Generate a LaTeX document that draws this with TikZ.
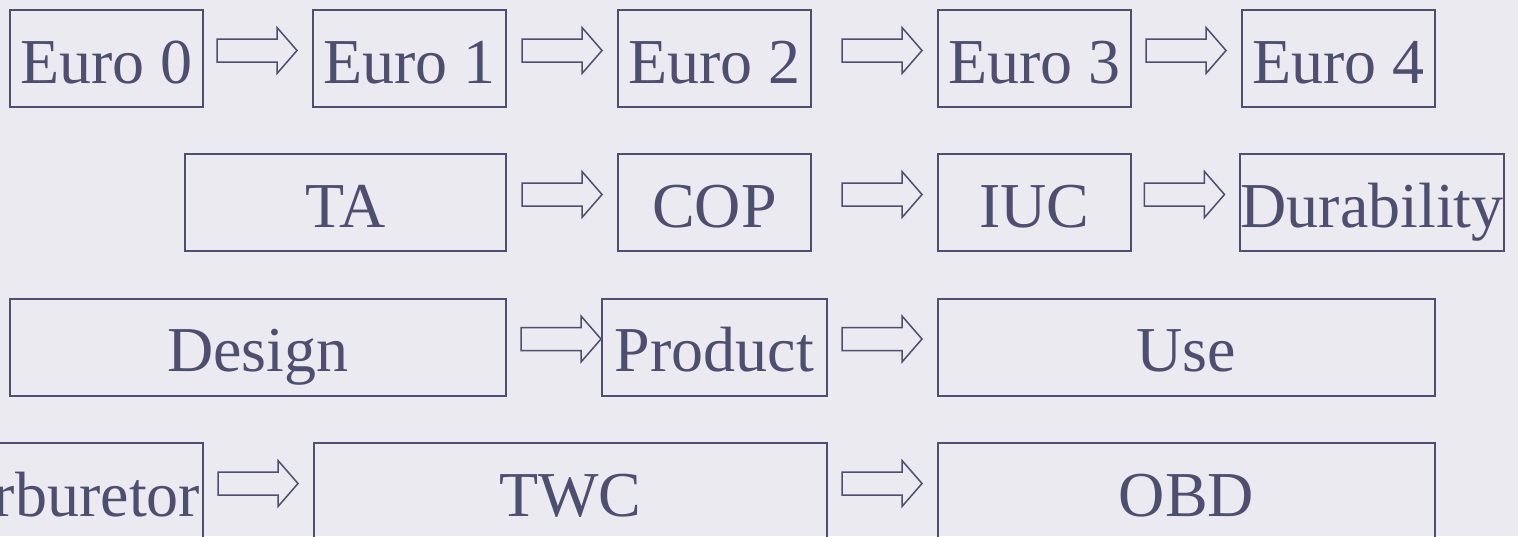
\documentclass[tikz,border=0pt]{standalone}
\usepackage{fontspec}
\setmainfont{Liberation Serif}
\usetikzlibrary{calc}
\definecolor{ink}{RGB}{78,78,112}
\definecolor{paper}{RGB}{234,234,240}
% hollow block arrow: ends gap px before the target box, level with the source
\newcommand{\fatarrow}[3][15]{%
  \draw[farrow] ($(#3.west |- #2.center)+(-#1,-8)$) -- ++(-20,-23) -- ++(0,11.5) -- ++(-60,0)
    -- ++(0,23) -- ++(60,0) -- ++(0,11.5) -- cycle;}
\begin{document}
\begin{tikzpicture}[x=0.5pt,y=-0.5pt,line join=miter,
	box/.style={draw=ink,line width=1pt,text=ink,inner sep=0pt,minimum height=48.5pt,
		font=\fontsize{32}{36}\selectfont,text height=24.5pt,text depth=0pt},
	farrow/.style={draw=ink,line width=0.75pt}]
	\fill[paper] (0,0) rectangle (1518,536);
	\useasboundingbox (0,0) rectangle (1518,536);
	\node[box,minimum width=96.5pt] (e0) at (106.5,58.5) {Euro 0};
	\node[box,minimum width=96.5pt] (e1) at (409.5,58.5) {Euro 1};
	\node[box,minimum width=96.5pt] (e2) at (714.5,58.5) {Euro 2};
	\node[box,minimum width=96.5pt] (e3) at (1034.5,58.5) {Euro 3};
	\node[box,minimum width=96.5pt] (e4) at (1338.5,58.5) {Euro 4};
	\node[box,minimum width=160.5pt] (ta) at (345.5,202.5) {TA};
	\node[box,minimum width=96.5pt] (cop) at (714.5,202.5) {COP};
	\node[box,minimum width=96.5pt] (iuc) at (1034.5,202.5) {IUC};
	\node[box,minimum width=130pt] (dur) at (1372,202.5) {Durability};
	\node[box,minimum width=248pt] (des) at (258,347) {Design};
	\node[box,minimum width=112.5pt] (prod) at (714.5,347) {Product};
	\node[box,minimum width=248.5pt] (use) at (1186.5,347) {Use};
	\node[box,minimum width=141.5pt] (carb) at (61.5,491.5) {Carburetor};
	\node[box,minimum width=256.5pt] (twc) at (570.5,491.5) {TWC};
	\node[box,minimum width=248.5pt] (obd) at (1186.5,491.5) {OBD};
	\fatarrow{e0}{e1} \fatarrow{e1}{e2} \fatarrow{e2}{e3} \fatarrow{e3}{e4}
	\fatarrow{ta}{cop} \fatarrow{cop}{iuc} \fatarrow{iuc}{dur}
	\fatarrow[0]{des}{prod} \fatarrow{prod}{use}
	\fatarrow{carb}{twc} \fatarrow{twc}{obd}
\end{tikzpicture}
\end{document}
